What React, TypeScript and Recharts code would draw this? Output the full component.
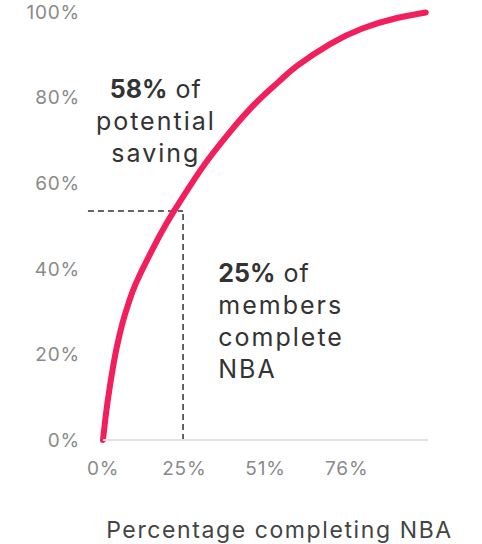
import React from 'react';
import { LineChart, Line, XAxis, YAxis, ReferenceLine, ReferenceDot } from 'recharts';

// Data
const completionPct = [0, 1, 2.2, 3.75, 5, 6.3, 8, 9.5, 11.5, 13.6, 17.8, 22, 27.2, 32.9, 40, 45, 50, 55, 60.6, 70.9, 81.2, 91.8, 100.8];
const savingPct = [0, 6.5, 12.8, 19.6, 24.0, 27.9, 32.0, 35.2, 38.6, 41.8, 47.9, 53.3, 59.4, 65.6, 72.3, 76.6, 80.4, 83.8, 87.4, 92.5, 96.2, 98.6, 99.9];
const xTicks = [0, 25.375, 50.75, 76.125];
const yTicks = [0, 20, 40, 60, 80, 100];
const xMax = 101.5;
const markerX = 25;
const markerY = 53.5;
const guideStartX = -4.7;
const savingNote = { bold: '58%', rest: ' of', lines: ['potential', 'saving'], x: 16.5, y: 80 };
const memberNote = { bold: '25%', rest: ' of', lines: ['members', 'complete', 'NBA'], x: 36, y: 37 };
const xLabel = 'Percentage completing NBA';

const data = completionPct.map((x, i) => ({ x, y: savingPct[i] }));

const FONT = 'Inter, "Noto Sans", sans-serif';

const Note = (props: any) => {
  const { viewBox, note, anchor } = props;
  const cx = viewBox.x + viewBox.width / 2;
  const cy = viewBox.y + viewBox.height / 2;
  return (
    <text x={cx} y={cy} textAnchor={anchor} fontSize={25} fill="#333" fontFamily={FONT}>
      <tspan x={cx} dy={0}>
        <tspan fontWeight={700}>{note.bold}</tspan>
        <tspan letterSpacing={1}>{note.rest}</tspan>
      </tspan>
      {note.lines.map((l: string, i: number) => (
        <tspan key={i} x={cx} dy={32} letterSpacing={2}>{l}</tspan>
      ))}
    </text>
  );
};

export default function App() {
  return (
    <div style={{ position: 'absolute', left: 0, top: 0 }}>
      <LineChart width={482} height={544} data={data} margin={{ top: 12, right: 54, left: 0, bottom: 0 }}>
        <XAxis
          type="number"
          dataKey="x"
          domain={[0, xMax]}
          ticks={xTicks}
          tickFormatter={(v: number) => `${Math.round(v)}%`}
          axisLine={{ stroke: '#e2e2e2', strokeWidth: 2 }}
          tickLine={false}
          height={104}
          tickMargin={16}
          tick={{ fill: '#8a8a8a', fontSize: 19, fontFamily: FONT, letterSpacing: 0.8 }}
          label={{ value: xLabel, position: 'insideBottom', offset: 6, dx: 14, fill: '#444', fontSize: 23, fontFamily: FONT, letterSpacing: 1.6 }}
        />
        <YAxis
          type="number"
          domain={[0, 100]}
          ticks={yTicks}
          tickFormatter={(v: number) => `${v}%`}
          axisLine={false}
          tickLine={false}
          width={103}
          tickMargin={17}
          tick={{ fill: '#8a8a8a', fontSize: 19, fontFamily: FONT, letterSpacing: 0.8 }}
        />
        <ReferenceLine
          segment={[{ x: guideStartX, y: markerY }, { x: markerX, y: markerY }]}
          stroke="#333"
          strokeWidth={1.5}
          strokeDasharray="6 4"
          ifOverflow="visible"
        />
        <ReferenceLine
          segment={[{ x: markerX, y: 0 }, { x: markerX, y: markerY }]}
          stroke="#333"
          strokeWidth={1.5}
          strokeDasharray="6 4"
          ifOverflow="visible"
        />
        <ReferenceDot x={savingNote.x} y={savingNote.y} r={1} fill="none" stroke="none" ifOverflow="visible"
          label={<Note note={savingNote} anchor="middle" />} />
        <ReferenceDot x={memberNote.x} y={memberNote.y} r={1} fill="none" stroke="none" ifOverflow="visible"
          label={<Note note={memberNote} anchor="start" />} />
        <Line
          type="natural"
          dataKey="y"
          stroke="#F21F5C"
          strokeWidth={6}
          strokeLinecap="round"
          strokeLinejoin="round"
          dot={false}
          activeDot={false}
          isAnimationActive={false}
        />
      </LineChart>
    </div>
  );
}
